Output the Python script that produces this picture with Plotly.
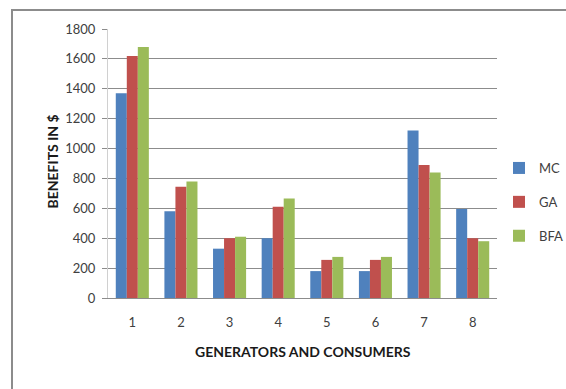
import plotly.graph_objects as go

categories = ["1", "2", "3", "4", "5", "6", "7", "8"]
mc = [1370, 580, 330, 400, 180, 180, 1120, 595]
ga = [1620, 745, 400, 610, 255, 255, 890, 400]
bfa = [1680, 780, 410, 665, 275, 275, 840, 380]
series_names = ["MC", "GA", "BFA"]
colors = ["#4F81BD", "#C0504D", "#9BBB59"]
y_ticks = [0, 200, 400, 600, 800, 1000, 1200, 1400, 1600, 1800]

FONT = "Lato, Liberation Sans, Arial, sans-serif"

fig = go.Figure()
for name, vals, col in zip(series_names, [mc, ga, bfa], colors):
    fig.add_trace(go.Bar(x=categories, y=vals, name=name, marker_color=col,
                         marker_line_width=0, legendgroup=name))

L, R, T, B = 108, 69, 29, 91
W, H = 566, 389
pw, ph = W - L - R, H - T - B

def px_x(x):
    return (x - L) / pw

def px_y(y):
    return (H - B - y) / ph

fig.update_layout(
    width=W, height=H,
    margin=dict(l=L, r=R, t=T, b=B, pad=0, autoexpand=False),
    paper_bgcolor="white", plot_bgcolor="white",
    barmode="group", bargap=0.32, bargroupgap=0,
    font=dict(family=FONT, size=13, color="#404040"),
    legend=dict(x=px_x(499), y=px_y(202), xanchor="left", yanchor="middle",
                font=dict(family=FONT, size=13, color="#404040"),
                tracegroupgap=14, itemwidth=30, bgcolor="rgba(0,0,0,0)"),
    xaxis=dict(showgrid=False, showline=True, linecolor="#8c8c8c", linewidth=1,
               ticks="", tickfont=dict(size=13, color="#404040"), ticklabelstandoff=12),
    yaxis=dict(range=[0, 1800], tickvals=y_ticks, showgrid=True, gridcolor="#8c8c8c",
               gridwidth=1, showline=True, linecolor="#d0d0d0", linewidth=1,
               ticks="outside", ticklen=5, tickcolor="#8c8c8c", ticklabelstandoff=4,
               tickfont=dict(size=13, color="#404040"), zeroline=False),
    showlegend=True,
)

fig.add_annotation(text="<b>BENEFITS IN $</b>", xref="paper", yref="paper",
                   x=px_x(41), y=px_y(162), textangle=-90, showarrow=False,
                   font=dict(family=FONT, size=14, color="#1a1a1a"))
fig.add_annotation(text="<b>GENERATORS AND CONSUMERS</b>", xref="paper", yref="paper",
                   x=px_x(303), y=px_y(362), showarrow=False,
                   font=dict(family=FONT, size=14, color="#1a1a1a"))

# outer chart frame
fig.add_shape(type="path", xref="paper", yref="paper",
              path=f"M {px_x(12)} {px_y(400)} L {px_x(12)} {px_y(10)} L {px_x(570)} {px_y(10)}",
              line=dict(color="#8c8c8c", width=2))

fig.write_html("out.html")
